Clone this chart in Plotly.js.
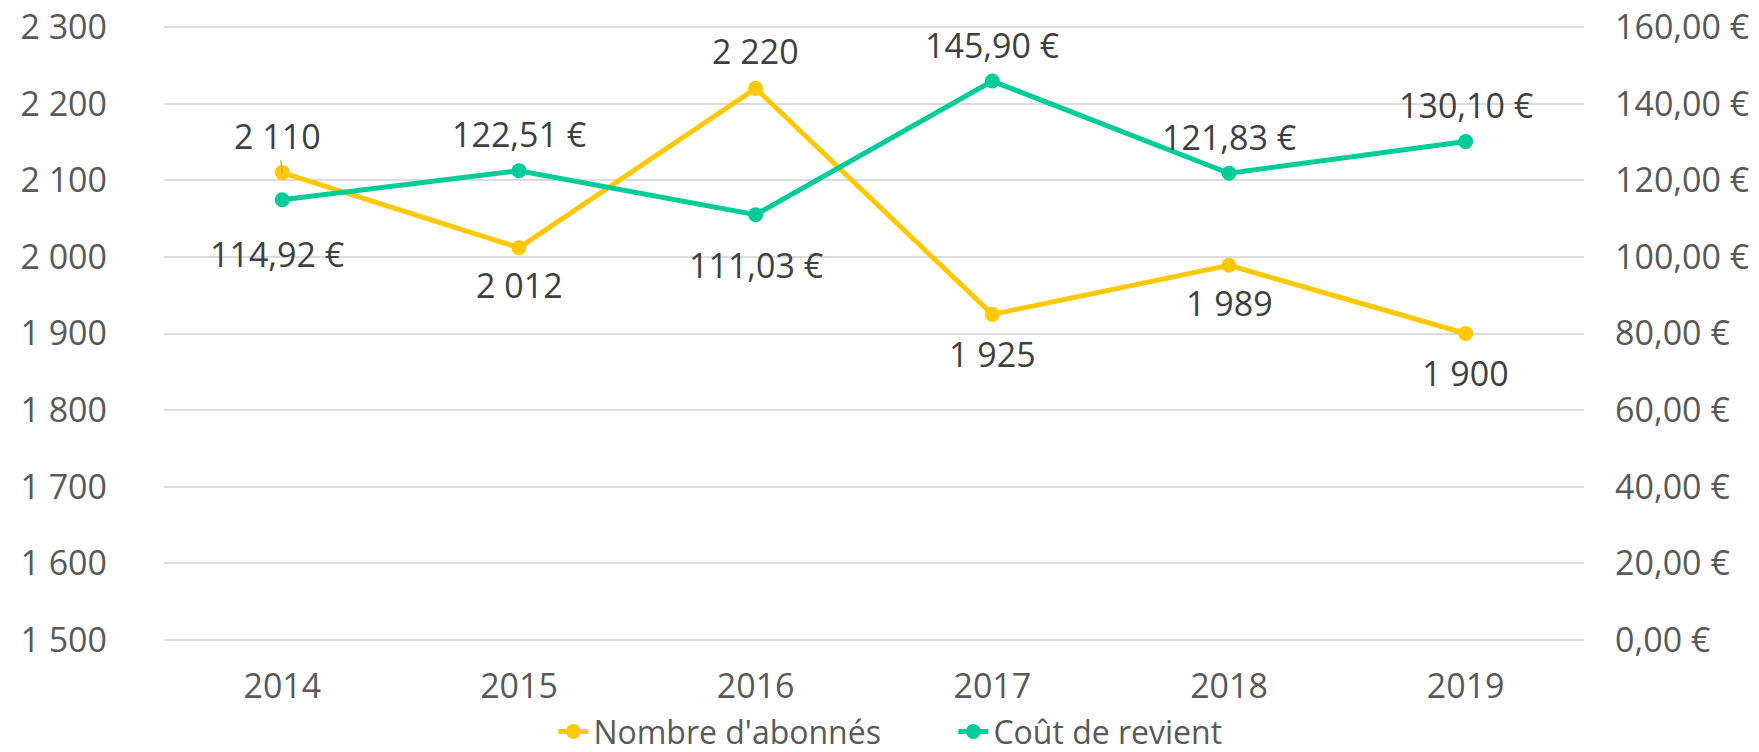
<!DOCTYPE html>
<html>
<head>
<meta charset="utf-8">
<script src="https://cdn.plot.ly/plotly-3.0.1.min.js"></script>
<style>
  html, body { margin: 0; padding: 0; background: #ffffff; }
  #chart { width: 1759px; height: 752px; }
</style>
</head>
<body>
<div id="chart"></div>
<script>
// ---- Data ----
const years = ['2014', '2015', '2016', '2017', '2018', '2019'];
const abonnes = [2110, 2012, 2220, 1925, 1989, 1900];
const cout = [114.92, 122.51, 111.03, 145.90, 121.83, 130.10];
const seriesNames = ["Nombre d'abonnés", 'Coût de revient'];

// ---- Label placement (styling) ----
const abonnesLabelShift = [0, -37, 37, -40, -38, -39];
const coutLabelShift = [-54, 37, -50, 36, 36, 37];

const YELLOW = '#FFC800';
const TEAL = '#00CC99';
const FONT = 'Open Sans, Noto Sans, sans-serif';

function fmtInt(v) {
  return String(Math.round(v)).replace(/\B(?=(\d{3})+(?!\d))/g, ' ');
}
function fmtEur(v) {
  return v.toFixed(2).replace('.', ',') + ' €';
}

const traces = [
  {
    x: years, y: abonnes, name: seriesNames[0], type: 'scatter', mode: 'lines+markers',
    yaxis: 'y', line: { color: YELLOW, width: 5 }, marker: { color: YELLOW, size: 15 },
    hoverinfo: 'skip'
  },
  {
    x: years, y: cout, name: seriesNames[1], type: 'scatter', mode: 'lines+markers',
    yaxis: 'y2', line: { color: TEAL, width: 5 }, marker: { color: TEAL, size: 15 },
    hoverinfo: 'skip'
  }
];

const annotations = [];
for (let i = 0; i < years.length; i++) {
  const a = {
    x: i, y: abonnes[i], xref: 'x', yref: 'y', text: fmtInt(abonnes[i]),
    font: { family: FONT, size: 34, color: '#404040' }
  };
  if (i === 0) {
    a.showarrow = true; a.arrowhead = 0; a.arrowwidth = 1.2; a.arrowcolor = '#a0a0a0';
    a.ax = -5; a.ay = -37; a.standoff = 0;
  } else {
    a.showarrow = false; a.yshift = abonnesLabelShift[i];
  }
  annotations.push(a);
  annotations.push({
    x: i, y: cout[i], xref: 'x', yref: 'y2', text: fmtEur(cout[i]),
    showarrow: false, yshift: coutLabelShift[i], xshift: i === 0 ? -5 : 0,
    font: { family: FONT, size: 34, color: '#404040' }
  });
}

const layout = {
  width: 1759, height: 752,
  margin: { l: 164, r: 175, t: 24, b: 109, pad: 0 },
  paper_bgcolor: '#ffffff', plot_bgcolor: '#ffffff',
  separators: ', ',
  font: { family: FONT, size: 34, color: '#595959' },
  showlegend: true,
  legend: {
    orientation: 'h', xref: 'container', yref: 'container',
    x: 0.542, xanchor: 'center', y: 0.027, yanchor: 'middle',
    font: { family: FONT, size: 32, color: '#595959' },
    entrywidth: 355
  },
  xaxis: {
    type: 'category', range: [-0.5, 5.5], showgrid: false, zeroline: false,
    showline: false, ticks: '', ticklabelstandoff: 20, automargin: false,
    tickfont: { family: FONT, size: 34, color: '#595959' }
  },
  yaxis: {
    range: [1496, 2304], tickmode: 'linear', tick0: 1500, dtick: 100,
    tickformat: ',d', showgrid: true, gridcolor: '#dcdcdc', gridwidth: 2,
    zeroline: false, showline: false, ticks: '', ticklabelstandoff: 56, automargin: false,
    tickfont: { family: FONT, size: 34, color: '#595959' }
  },
  yaxis2: {
    range: [-0.8, 160.8], tickmode: 'linear', tick0: 0, dtick: 20,
    tickformat: ',.2f', ticksuffix: ' €', overlaying: 'y', side: 'right',
    showgrid: false, zeroline: false, showline: false, ticks: '', ticklabelstandoff: 30,
    automargin: false,
    tickfont: { family: FONT, size: 34, color: '#595959' }
  },
  annotations: annotations
};

Plotly.newPlot('chart', traces, layout, { displayModeBar: false });
</script>
</body>
</html>
